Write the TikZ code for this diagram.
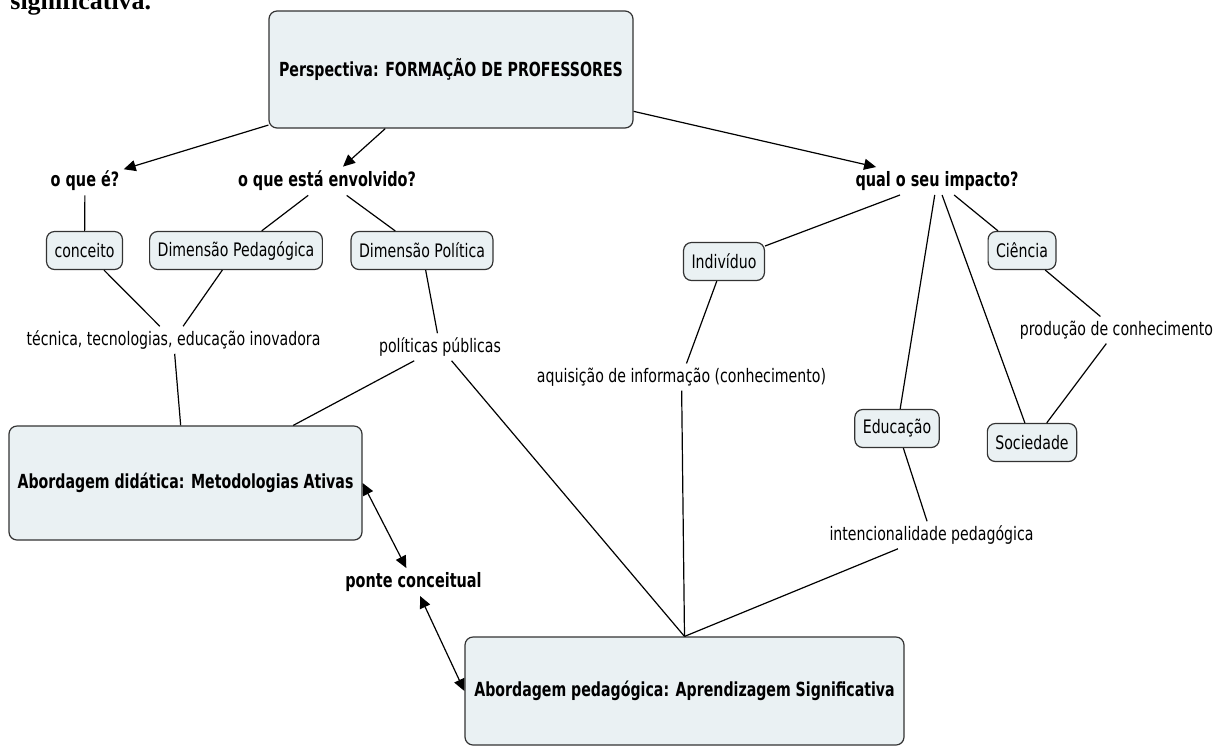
\documentclass[tikz,border=0pt]{standalone}
\usepackage{fontspec}
\usepackage{tikz}
\usetikzlibrary{arrows.meta}
\newfontfamily\mapfont[FakeStretch=0.76]{DejaVu Sans}
\newfontfamily\mapboldfont[FakeStretch=0.73]{DejaVu Sans}
\newfontfamily\capfont{Liberation Serif}
\definecolor{boxfill}{HTML}{EAF1F3}
\definecolor{boxline}{HTML}{333333}
\tikzset{bigbox/.style = {draw=boxline, fill=boxfill, rounded corners=4pt, line width=0.6pt,
    inner sep=0, font=\mapboldfont\bfseries\fontsize{9.7}{12}\selectfont}}
\tikzset{cbox/.style = {draw=boxline, fill=boxfill, rounded corners=4pt, line width=0.6pt,
    inner xsep=4pt, inner ysep=0, minimum height=19pt, font=\mapfont\fontsize{9.3}{11}\selectfont}}
\tikzset{linkq/.style = {inner sep=2pt, font=\mapboldfont\bfseries\fontsize{9.9}{12}\selectfont}}
\tikzset{phrase/.style = {inner sep=2pt, font=\mapfont\fontsize{9.3}{11}\selectfont}}
\tikzset{conn/.style = {line width=0.6pt}}
\tikzset{arr/.style = {conn, -{Triangle[length=6pt, width=5.5pt]}}}
\tikzset{darr/.style = {conn, {Triangle[length=6pt, width=5.5pt]}-{Triangle[length=6pt, width=5.5pt]}}}

\begin{document}
\begin{tikzpicture}[x=0.5pt, y=-0.5pt]
      \useasboundingbox (0, 0) rectangle (1226, 746);
      \node [anchor=base west, inner sep=0, font=\capfont\bfseries\fontsize{13}{15}\selectfont] (caption) at (10, 9) {significativa.};

      % main concepts
      \node [bigbox, minimum width=182pt, minimum height=58.5pt] (persp) at (451, 69.5) {Perspectiva: FORMAÇÃO DE PROFESSORES};
      \node [bigbox, minimum width=176.5pt, minimum height=57pt] (apD) at (185.5, 483) {Abordagem didática: Metodologias Ativas};
      \node [bigbox, minimum width=219.5pt, minimum height=54pt] (apA) at (684.5, 691) {Abordagem pedagógica: Aprendizagem Significativa};

      \node [linkq] (oque) at (85, 181) {o que é?};
      \node [linkq] (envolvido) at (327, 181) {o que está envolvido?};
      \node [linkq] (impacto) at (937, 181) {qual o seu impacto?};
      \node [linkq] (ponte) at (413.5, 582) {ponte conceitual};

      \node [cbox] (conceito) at (84.5, 250.5) {conceito};
      \node [cbox] (dimped) at (236, 250.5) {Dimensão Pedagógica};
      \node [cbox] (dimpol) at (422, 250.5) {Dimensão Política};
      \node [cbox] (individuo) at (724, 261.5) {Indivíduo};
      \node [cbox] (ciencia) at (1022, 250.5) {Ciência};
      \node [cbox] (educacao) at (897, 428.5) {Educação};
      \node [cbox] (sociedade) at (1032, 442.5) {Sociedade};

      \node [phrase] (tecnica) at (173.5, 340) {técnica, tecnologias, educação inovadora};
      \node [phrase] (politicas) at (440, 347) {políticas públicas};
      \node [phrase] (aquisicao) at (681.5, 377) {aquisição de informação (conhecimento)};
      \node [phrase] (producao) at (1116.5, 330) {produção de conhecimento};
      \node [phrase] (intenc) at (931.5, 535) {intencionalidade pedagógica};

      % connectors
      \draw [arr] (persp) -- (oque);
      \draw [arr] (persp) -- (envolvido);
      \draw [arr] (persp) -- (impacto);
      \draw [conn] (oque) -- (conceito);
      \draw [conn] (envolvido) -- (dimped);
      \draw [conn] (envolvido) -- (dimpol);
      \draw [conn] (conceito) -- (tecnica);
      \draw [conn] (dimped) -- (tecnica);
      \draw [conn] (tecnica) -- (apD);
      \draw [conn] (dimpol) -- (politicas);
      \draw [conn] (politicas) -- (apD);
      \draw [conn] (politicas) -- (apA.north);
      \draw [conn] (impacto) -- (individuo);
      \draw [conn] (impacto) -- (educacao);
      \draw [conn] (impacto) -- (sociedade);
      \draw [conn] (impacto) -- (ciencia);
      \draw [conn] (individuo) -- (aquisicao);
      \draw [conn] (aquisicao) -- (apA.north);
      \draw [conn] (ciencia) -- (producao);
      \draw [conn] (producao) -- (sociedade);
      \draw [conn] (educacao) -- (intenc);
      \draw [conn] (intenc) -- (apA.north);
      \draw [darr] (apD.east) -- (ponte);
      \draw [darr] (ponte) -- (apA.west);
    \end{tikzpicture}
\end{document}
